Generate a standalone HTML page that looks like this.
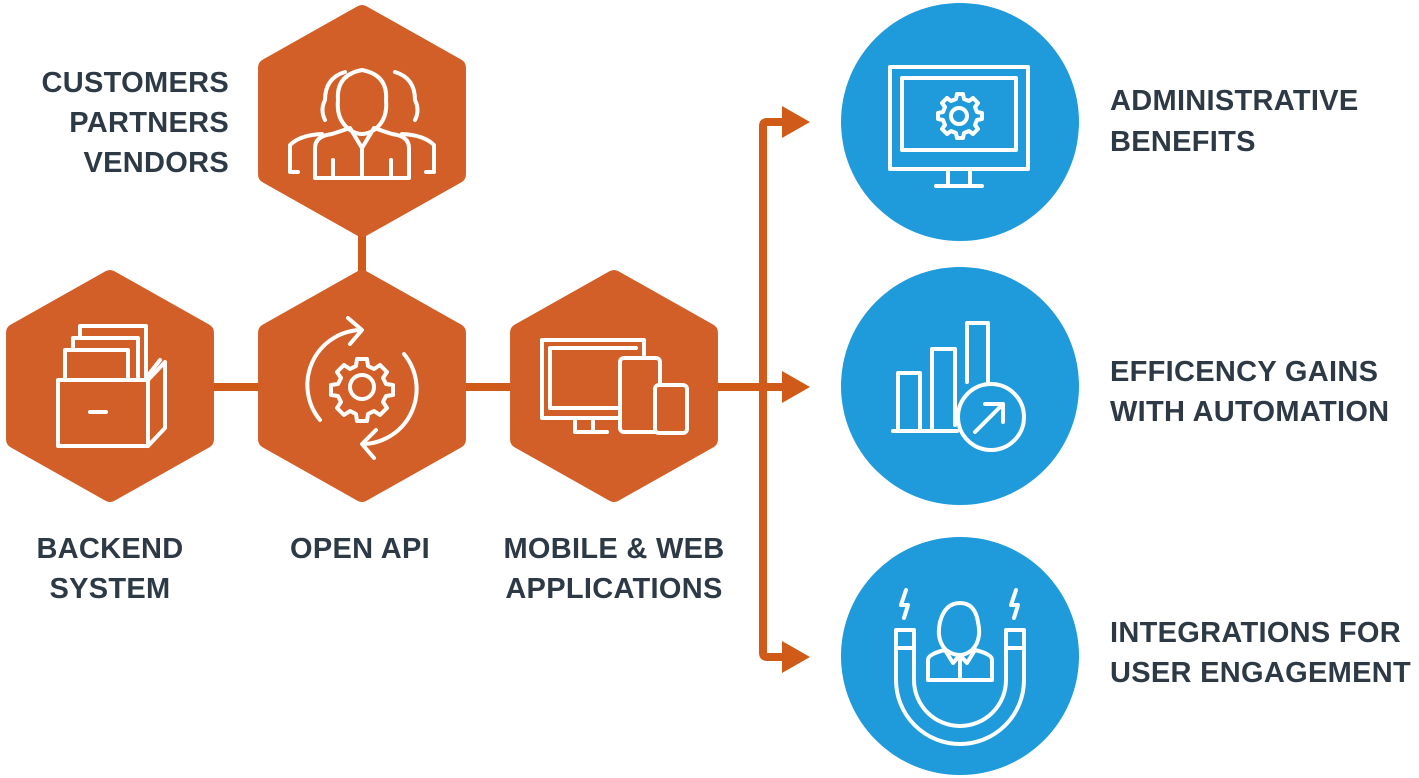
<!DOCTYPE html>
<html><head><meta charset="utf-8"><style>
html,body{margin:0;padding:0;background:#fff;}
svg{display:block;}
text{font-family:"Liberation Sans",sans-serif;font-weight:bold;font-size:29px;letter-spacing:0.3px;fill:#2d3a46;}
</style></head><body>
<svg width="1419" height="778" viewBox="0 0 1419 778" xmlns="http://www.w3.org/2000/svg">
<defs>
<path id="hex" d="M0,-116 L103,-58 L103,58 L0,116 L-103,58 L-103,-58 Z" fill="#d35f28" stroke="#d35f28" stroke-width="20" stroke-linejoin="round" transform="scale(0.92)"/>
</defs>
<g stroke="#d05a17" stroke-width="8" fill="none">
<line x1="362" y1="230" x2="362" y2="280"/>
<line x1="200" y1="387" x2="270" y2="387"/>
<line x1="455" y1="387" x2="525" y2="387"/>
<line x1="705" y1="387" x2="785" y2="387"/>
<path d="M785,122 L767,122 Q763,122 763,126 L763,653 Q763,657 767,657 L785,657"/>
</g>
<g fill="#d05a17">
<polygon points="782,106 810,122 782,138"/>
<polygon points="782,371 810,387 782,403"/>
<polygon points="782,641 810,657 782,673"/>
</g>
<use href="#hex" x="362" y="121"/>
<use href="#hex" x="110" y="386"/>
<use href="#hex" x="362" y="386"/>
<use href="#hex" x="614" y="386"/>
<g stroke="#fff" stroke-width="4" fill="none" stroke-linecap="round" stroke-linejoin="round">
<path d="M325,120 Q320,110 325,100 Q325,78 345,72 M395,72 Q415,78 415,100 Q420,110 415,120"/>
<path d="M350,130 Q336,120 338,100 Q336,75 362,70 Q388,75 386,100 Q388,120 374,130 Q362,138 350,130Z"/>
<path d="M315,178 L315,148 Q315,136 332,134 L350,128 L362,148 L374,128 L392,134 Q409,136 409,148 L409,178 Z M362,148 L362,178 M333,160 L333,178 M391,160 L391,178"/>
<path d="M322,134 Q300,135 290,145 L290,172 L298,172 M402,134 Q424,135 434,145 L434,172 L426,172"/>
<path d="M58,380 L58,446 L148,446 L148,380 Z M148,380 L165,362 L165,428 L148,446 M90,412 L106,412"/>
<path d="M65,380 L65,350 L128,350 L128,380 M73,350 L73,338 L138,338 L138,380 M80,338 L80,326 L146,326 L146,378 L160,360"/>
<circle cx="362" cy="387" r="12"/>
<path d="M362,359 l5,0 1,7 6,3 6,-4 7,7 -4,6 3,6 7,1 0,10 -7,1 -3,6 4,6 -7,7 -6,-4 -6,3 -1,7 -10,0 -1,-7 -6,-3 -6,4 -7,-7 4,-6 -3,-6 -7,-1 0,-10 7,-1 3,-6 -4,-6 7,-7 6,4 6,-3 1,-7 Z"/>
<path d="M320,420 A55,55 0 0 1 360,330 M404,354 A55,55 0 0 1 364,444 M348,318 L362,330 L350,344 M376,430 L362,444 L374,458"/>
<path d="M542,340 L644,340 L644,356 M542,340 L542,418 L618,418 M575,418 L575,432 L607,432 M593,418 L593,432"/>
<path d="M550,348 L636,348 M550,348 L550,408 L618,408"/>
<rect x="620" y="358" width="40" height="74" rx="4"/>
<rect x="655" y="385" width="32" height="48" rx="4" fill="#d35f28"/>
</g>
<g fill="#1f9bdc">
<circle cx="960" cy="122" r="119"/>
<circle cx="960" cy="386" r="119"/>
<circle cx="960" cy="656" r="119"/>
</g>
<g stroke="#fff" stroke-width="4" fill="none" stroke-linecap="round" stroke-linejoin="round">
<rect x="890" y="67" width="138" height="102"/>
<rect x="902" y="78" width="114" height="72"/>
<path d="M948,170 L948,184 M970,170 L970,184 M936,186 L982,186"/>
<circle cx="959" cy="116" r="8"/>
<path d="M959,94 l4,0 1,5 5,2 4,-3 5,5 -3,4 2,5 5,1 0,6 -5,1 -2,5 3,4 -5,5 -4,-3 -5,2 -1,5 -6,0 -1,-5 -5,-2 -4,3 -5,-5 3,-4 -2,-5 -5,-1 0,-6 5,-1 2,-5 -3,-4 5,-5 4,3 5,-2 1,-5 Z"/>
<path d="M893,431 L957,431 M898,431 L898,373 L920,373 L920,431 M932,431 L932,349 L955,349 L955,425 M967,382 L967,323 L988,323 L988,382"/>
<circle cx="991" cy="417" r="33"/>
<path d="M975,432 L1003,404 M985,404 L1003,404 L1003,422"/>
<path d="M896,630 L896,680 A64,64 0 0 0 1024,680 L1024,630 L1006,630 L1006,680 A46,46 0 0 1 914,680 L914,630 Z M896,648 L914,648 M1006,648 L1024,648"/>
<path d="M946,650 Q936,640 940,622 Q945,603 960,603 Q975,603 978,622 Q982,640 972,650 Q960,660 946,650Z"/>
<path d="M928,680 L928,660 Q928,654 945,650 L953,663 L960,655 L967,663 L975,650 Q992,654 992,660 L992,680 Z M960,655 L960,680"/>
<path d="M906,590 L901,605 L908,605 L904,618 M1016,590 L1011,605 L1018,605 L1014,618"/>
</g>
<g text-anchor="end">
<text x="229" y="92">CUSTOMERS</text>
<text x="229" y="132">PARTNERS</text>
<text x="229" y="172">VENDORS</text>
</g>
<g text-anchor="middle">
<text x="110" y="558">BACKEND</text>
<text x="110" y="598">SYSTEM</text>
<text x="360" y="558">OPEN API</text>
<text x="614" y="558">MOBILE &amp; WEB</text>
<text x="614" y="598">APPLICATIONS</text>
</g>
<text x="1110" y="110">ADMINISTRATIVE</text>
<text x="1110" y="151">BENEFITS</text>
<text x="1110" y="381">EFFICENCY GAINS</text>
<text x="1110" y="421">WITH AUTOMATION</text>
<text x="1110" y="642">INTEGRATIONS FOR</text>
<text x="1110" y="682">USER ENGAGEMENT</text>
</svg>
</body></html>
